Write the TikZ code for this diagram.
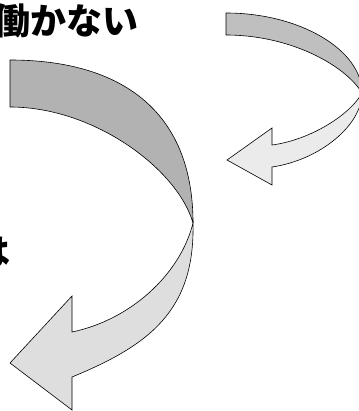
\documentclass[tikz,border=0pt]{standalone}
\usepackage{fontspec}
\newfontfamily\jpfont{Noto Sans CJK JP}
\tikzset{
  bigback/.style={draw=black, line width=0.6pt, line join=round, fill=black!30},
  bigfront/.style={draw=black, line width=0.6pt, line join=miter, fill=black!13},
  smallback/.style={draw=black, line width=0.6pt, line join=round, fill=black!25},
  smallfront/.style={draw=black, line width=0.6pt, line join=miter, fill=black!8},
  jptext/.style={inner sep=0pt, font=\jpfont\bfseries\fontsize{36}{36}\selectfont}
}
\begin{document}
\begin{tikzpicture}[x=1pt,y=-1pt]
            \useasboundingbox (0,0) rectangle (358,411);
            % Texts, cut at the left edge
            \node[jptext, anchor=east] (hataraku) at (139,21) {働かない};
            \node[jptext, anchor=east] (wa) at (11,252) {は};

            % Big arrow: back side, then front side after the twist
            \draw[bigback] (10,60) .. controls (120,60) and (193,110) .. (193,223)
                .. controls (178,170) and (95,107) .. (10,107) -- cycle;
            \draw[bigfront] (193,223) .. controls (195,310) and (150,345) .. (72,377)
                -- (72,410) -- (10,363) -- (72,296) -- (72,332)
                .. controls (130,320) and (180,275) .. (193,223) -- cycle;

            % Small arrow: back side, then front side after the twist
            \draw[smallback] (226,13) .. controls (300,13) and (362,50) .. (362,93)
                .. controls (345,65) and (290,35) .. (226,35) -- cycle;
            \draw[smallfront] (362,93) .. controls (362,125) and (320,160) .. (272,167)
                -- (272,185) -- (227,160) -- (272,128) -- (272,145)
                .. controls (310,140) and (350,115) .. (362,93) -- cycle;
\end{tikzpicture}
\end{document}
